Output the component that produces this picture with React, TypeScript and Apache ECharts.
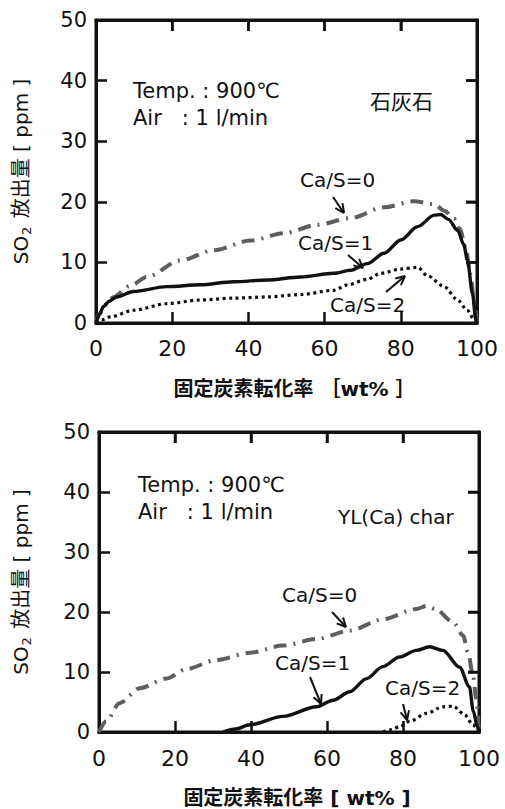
import React, { useEffect, useRef } from "react";
import * as echarts from "echarts";

// ---- Data (x: 固定炭素転化率 wt%, y: SO2 ppm) ----
const xTicks = [0, 20, 40, 60, 80, 100];
const yTicks = [0, 10, 20, 30, 40, 50];

// Top panel: 石灰石
const topCaS0: [number, number][] = [
  [0, 0], [1, 1.6], [2.5, 3], [4.6, 4.3], [8.9, 6.1], [13.3, 7.6], [22, 10.3], [30.9, 12],
  [40.5, 13.6], [49.3, 14.8], [58, 16.2], [66.8, 17.3], [75.6, 19.1], [83.5, 20.1],
  [88.8, 19.6], [91.5, 18.5], [94, 17.2], [95.5, 15.5], [97, 12.5], [98.3, 8], [99.3, 3], [100, 0],
];
const topCaS1: [number, number][] = [
  [0, 0], [1, 1.5], [1.9, 2.7], [3.5, 3.6], [5.4, 4.3], [9.8, 5.2], [18.6, 6], [27.4, 6.3],
  [36.1, 6.8], [44.9, 7.1], [53.7, 7.6], [62.4, 8.2], [66.8, 8.7], [71.2, 9.8], [75.6, 11.5],
  [80, 13.7], [84.4, 15.9], [88.8, 17.8], [90.5, 17.9], [92.5, 17.1], [94.9, 15.3], [96.5, 13],
  [97.5, 10.4], [98.8, 4.9], [99.7, 0.5], [100, 0],
];
const topCaS2: [number, number][] = [
  [0, 0], [1.5, 0.5], [3.7, 1], [9.8, 2.1], [18.6, 3.2], [27.4, 3.8], [36.1, 4.1], [44.9, 4.3],
  [53.7, 4.7], [62.4, 5.4], [66, 6.3], [71.2, 7.2], [74.7, 8.2], [80, 8.9], [84.4, 9.2],
  [87, 7.8], [91.4, 6], [94.9, 3.8], [97.5, 2.1], [99.3, 0.5], [100, 0],
];

// Bottom panel: YL(Ca) char
const botCaS0: [number, number][] = [
  [0, 0], [1.9, 1.8], [5.4, 4.8], [10.7, 7.3], [17.7, 8.9], [23, 10.5], [30.9, 12], [39.7, 13.2],
  [48.4, 14.4], [57.2, 15.5], [66, 16.9], [74.8, 18.8], [83.5, 20.5], [86.2, 21], [88.5, 20.5],
  [93.2, 18.3], [95.8, 16.1], [97.1, 13.3], [98.4, 9.5], [99.3, 5.5], [100, 0],
];
const botCaS1: [number, number][] = [
  [32.6, 0], [36, 0.5], [39.7, 1.2], [48.4, 2.6], [57.2, 4.2], [61.6, 5.3], [66, 6.7],
  [70.4, 8.9], [74.7, 10.9], [79.1, 12.5], [83.5, 13.6], [87, 14.2], [90.5, 13.6],
  [94.9, 10.8], [97.5, 7.5], [98.5, 3.5], [99.5, 1], [100, 0],
];
const botCaS2: [number, number][] = [
  [74.7, 0], [77, 0.4], [79.1, 0.9], [81.8, 1.8], [86.2, 3.1], [90.5, 4.2], [93.2, 4.3],
  [96.2, 2.9], [98.4, 1.2], [100, 0],
];

const seriesNames = ["Ca/S=0", "Ca/S=1", "Ca/S=2"];

const FONT = "'DejaVu Sans', 'Noto Sans CJK JP', sans-serif";

function arrow(x1: number, y1: number, x2: number, y2: number) {
  const ang = Math.atan2(y2 - y1, x2 - x1);
  const L = 10;
  const a1 = ang + Math.PI - 0.45;
  const a2 = ang + Math.PI + 0.45;
  return [
    { type: "line", shape: { x1, y1, x2, y2 }, style: { stroke: "#111", lineWidth: 2 } },
    { type: "line", shape: { x1: x2 + L * Math.cos(a1), y1: y2 + L * Math.sin(a1), x2, y2 }, style: { stroke: "#111", lineWidth: 2 } },
    { type: "line", shape: { x1: x2 + L * Math.cos(a2), y1: y2 + L * Math.sin(a2), x2, y2 }, style: { stroke: "#111", lineWidth: 2 } },
  ];
}

function txt(x: number, y: number, text: string, size = 20) {
  return {
    type: "text",
    x,
    y,
    style: {
      text,
      fill: "#111",
      fontSize: size,
      fontFamily: FONT,
      align: "left",
      verticalAlign: "middle",
    },
  };
}

const mkLine = () => ({ show: true, onZero: false, lineStyle: { color: "#111", width: 3 } });
const mkTick = () => ({ show: true, inside: true, length: 11, lineStyle: { color: "#111", width: 2.5 } });

export default function App() {
  const ref = useRef<HTMLDivElement>(null);
  const ref2 = useRef<HTMLDivElement>(null);
  useEffect(() => {
    if (!ref.current || !ref2.current) return;
    const chart = echarts.init(ref.current, undefined, { renderer: "svg" });
    const overlay = echarts.init(ref2.current, undefined, { renderer: "svg" });

    const grids = [
      { left: 96, top: 20, width: 381, height: 303, show: true, borderColor: "#111", borderWidth: 3, backgroundColor: "transparent" },
      { left: 99, top: 432, width: 380, height: 302, show: true, borderColor: "#111", borderWidth: 3, backgroundColor: "transparent" },
    ];

    const xAxes: any[] = [];
    const yAxes: any[] = [];
    [0, 1].forEach((g) => {
      xAxes.push({
        type: "value", gridIndex: g, min: xTicks[0], max: xTicks[xTicks.length - 1], interval: 20,
        position: "bottom", axisLine: mkLine(), axisTick: mkTick(), splitLine: { show: false },
        axisLabel: { fontSize: 22, color: "#111", fontFamily: FONT, margin: g === 0 ? 14 : 15 },
        name: g === 0 ? "固定炭素転化率 ［wt% ］" : "固定炭素転化率 [ wt% ]",
        nameLocation: "middle",
        nameGap: 56,
        nameTextStyle: { fontSize: 20, color: "#111", fontFamily: FONT, fontWeight: "bold", padding: [0, 0, 0, 16] },
      });
      xAxes.push({
        type: "value", gridIndex: g, min: xTicks[0], max: xTicks[xTicks.length - 1], interval: 20,
        position: "top", axisLine: mkLine(), axisTick: mkTick(), splitLine: { show: false },
        axisLabel: { show: false },
      });
      yAxes.push({
        type: "value", gridIndex: g, min: yTicks[0], max: yTicks[yTicks.length - 1], interval: 10,
        position: "left", axisLine: mkLine(), axisTick: mkTick(), splitLine: { show: false },
        axisLabel: { fontSize: 21, color: "#111", fontFamily: FONT, margin: 9 },
        name: "{a|SO}{b|2}{a| 放出量 [ ppm ]}",
        nameLocation: "middle",
        nameGap: g === 0 ? 63 : 66,
        nameTextStyle: {
          color: "#111",
          fontFamily: FONT,
          rich: {
            a: { fontSize: 20, fontFamily: FONT, color: "#111", lineHeight: 24, verticalAlign: "middle" },
            b: { fontSize: 13, fontFamily: FONT, color: "#111", lineHeight: 24, verticalAlign: "bottom", padding: [10, 2, 0, 1] },
          },
        },
      });
      yAxes.push({
        type: "value", gridIndex: g, min: yTicks[0], max: yTicks[yTicks.length - 1], interval: 10,
        position: "right", axisLine: mkLine(), axisTick: mkTick(), splitLine: { show: false },
        axisLabel: { show: false },
      });
    });

    const styles = [
      { color: "#5e5e5e", width: 4, type: [13, 7, 2, 7] },
      { color: "#111", width: 3.4, type: "solid" },
      { color: "#111", width: 3.2, type: [3, 3.5] },
    ];
    const mk = (name: string, data: [number, number][], g: number, kind: number) => ({
      name,
      type: "line",
      xAxisIndex: g * 2,
      yAxisIndex: g * 2,
      data,
      showSymbol: false,
      smooth: 0.3,
      smoothMonotone: "x",
      lineStyle: { ...styles[kind] },
    });

    const series = [
      mk(seriesNames[0], topCaS0, 0, 0),
      mk(seriesNames[1], topCaS1, 0, 1),
      mk(seriesNames[2], topCaS2, 0, 2),
      mk(seriesNames[0], botCaS0, 1, 0),
      mk(seriesNames[1], botCaS1, 1, 1),
      mk(seriesNames[2], botCaS2, 1, 2),
    ];

    chart.setOption({
      animation: false,
      backgroundColor: "#fff",
      grid: grids,
      xAxis: xAxes,
      yAxis: yAxes,
      series,
    });

    // Inward ticks on the top and right frame edges, placed through the chart's own scales.
    const frameTicks: any[] = [];
    const tickStyle = { stroke: "#111", lineWidth: 2.5 };
    [0, 1].forEach((g) => {
      const finder = { xAxisIndex: g * 2, yAxisIndex: g * 2 };
      const yMax = yTicks[yTicks.length - 1];
      const xMax = xTicks[xTicks.length - 1];
      xTicks.slice(1, -1).forEach((x) => {
        const p = chart.convertToPixel(finder, [x, yMax]) as number[];
        if (p && isFinite(p[0])) {
          frameTicks.push({ type: "line", shape: { x1: p[0], y1: p[1], x2: p[0], y2: p[1] + 11 }, style: { ...tickStyle } });
        }
      });
      yTicks.slice(1, -1).forEach((y) => {
        const p = chart.convertToPixel(finder, [xMax, y]) as number[];
        if (p && isFinite(p[1])) {
          frameTicks.push({ type: "line", shape: { x1: p[0], y1: p[1], x2: p[0] - 11, y2: p[1] }, style: { ...tickStyle } });
        }
      });
    });

    const graphic: any[] = [
      ...frameTicks,
      txt(133, 91, "Temp. : 900℃", 21),
      txt(133, 118, "Air\u00a0\u00a0\u00a0: 1 l/min", 21),
      txt(370, 102, "石灰石", 21),
      txt(300, 180, "Ca/S=0"),
      txt(298, 243, "Ca/S=1"),
      txt(330, 305, "Ca/S=2"),
      ...arrow(333, 197, 344, 213),
      ...arrow(348, 255, 363, 268),
      ...arrow(386, 292, 405, 276),
      txt(138, 485, "Temp. : 900℃", 21),
      txt(138, 512, "Air\u00a0\u00a0\u00a0: 1 l/min", 21),
      txt(338, 517, "YL(Ca) char", 20),
      txt(282, 595, "Ca/S=0"),
      txt(275, 663, "Ca/S=1"),
      txt(385, 688, "Ca/S=2"),
      ...arrow(332, 612, 346, 627),
      ...arrow(310, 677, 321, 704),
      ...arrow(403, 704, 407, 720),
    ];
    try {
      overlay.setOption({ animation: false, graphic });
    } catch (e) {
      // keep the main chart intact
    }

    return () => {
      chart.dispose();
      overlay.dispose();
    };
  }, []);
  return (
    <>
      <div ref={ref} style={{ position: "fixed", left: 0, top: 0, width: 505, height: 809 }} />
      <div
        ref={ref2}
        style={{ position: "fixed", left: 0, top: 0, width: 505, height: 809, pointerEvents: "none" }}
      />
    </>
  );
}
